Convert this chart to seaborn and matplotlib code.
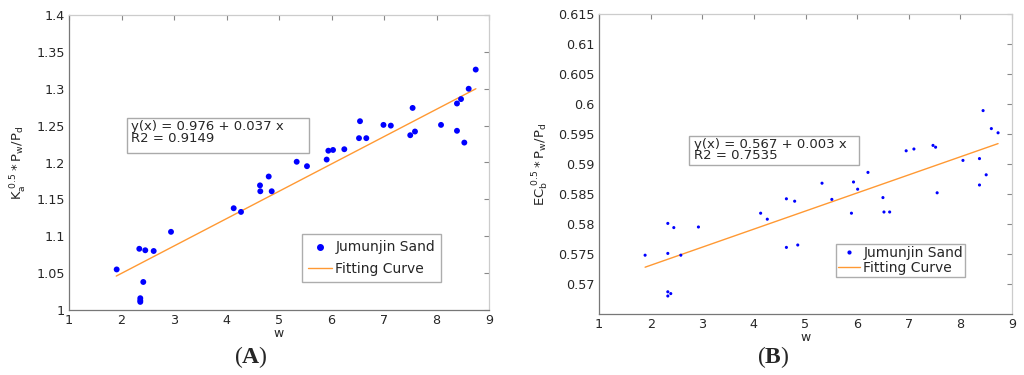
import matplotlib
matplotlib.use("Agg")
import matplotlib.pyplot as plt
import seaborn as sns
import pandas as pd
from matplotlib.lines import Line2D
from matplotlib.patches import Rectangle

# panel A data (K_a^0.5 * Pw/Pd vs w)
w_a = [1.908, 2.339, 2.453, 2.613, 2.415, 2.358, 2.358, 2.358, 2.943, 4.137,
       4.276, 4.638, 4.644, 4.804, 4.861, 5.337, 5.533, 5.908, 5.94, 6.029,
       6.244, 6.524, 6.543, 6.663, 6.99, 7.13, 7.50, 7.545, 7.59, 8.086,
       8.39, 8.39, 8.467, 8.53, 8.613, 8.747]
k_a = [1.055, 1.083, 1.081, 1.080, 1.038, 1.016, 1.013, 1.011, 1.106, 1.138,
       1.133, 1.169, 1.161, 1.181, 1.161, 1.201, 1.195, 1.204, 1.216, 1.217,
       1.218, 1.233, 1.256, 1.233, 1.251, 1.250, 1.237, 1.274, 1.242, 1.251,
       1.280, 1.243, 1.286, 1.227, 1.300, 1.326]
fit_a_x = [1.9, 8.75]
fit_a_y = [1.046, 1.300]

# panel B data (EC_b^0.5 * Pw/Pd vs w)
w_b = [1.893, 2.333, 2.449, 2.333, 2.585, 2.333, 2.333, 2.39, 2.926, 4.131,
       4.26, 4.63, 4.79, 4.63, 4.85, 5.32, 5.51, 5.89, 5.93, 6.01,
       6.21, 6.50, 6.52, 6.63, 6.95, 7.10, 7.47, 7.52, 7.55, 8.05,
       8.37, 8.37, 8.50, 8.44, 8.60, 8.73]
ec_b = [0.5748, 0.5801, 0.5794, 0.5751, 0.5748, 0.5687, 0.5680, 0.5684, 0.5795, 0.5818,
        0.5808, 0.5842, 0.5838, 0.5761, 0.5765, 0.5868, 0.5841, 0.5818, 0.5870, 0.5858,
        0.5886, 0.5844, 0.5820, 0.5820, 0.5922, 0.5925, 0.5931, 0.5928, 0.5852, 0.5906,
        0.5909, 0.5865, 0.5882, 0.5989, 0.5959, 0.5952]
fit_b_x = [1.893, 8.73]
fit_b_y = [0.5728, 0.5934]

x_ticks = [1, 2, 3, 4, 5, 6, 7, 8, 9]
y_ticks_a = [1, 1.05, 1.1, 1.15, 1.2, 1.25, 1.3, 1.35, 1.4]
y_labels_a = ["1", "1.05", "1.1", "1.15", "1.2", "1.25", "1.3", "1.35", "1.4"]
y_ticks_b = [0.57, 0.575, 0.58, 0.585, 0.59, 0.595, 0.6, 0.605, 0.61, 0.615]
y_labels_b = ["0.57", "0.575", "0.58", "0.585", "0.59", "0.595", "0.6", "0.605", "0.61", "0.615"]

sns.set_style("white")
plt.rcParams["font.family"] = ["DejaVu Sans"]
plt.rcParams["mathtext.fontset"] = "custom"
plt.rcParams["mathtext.rm"] = "DejaVu Sans"
plt.rcParams["mathtext.bf"] = "Liberation Serif:bold"

blue = "#0000ff"
orange = "#ff9933"

fig = plt.figure(figsize=(10.24, 3.75), dpi=100)
ax_a = fig.add_axes([69 / 1024, 65 / 375, 420 / 1024, 295 / 375])
ax_b = fig.add_axes([599 / 1024, 61 / 375, 413 / 1024, 300 / 375])


def style_axes(ax):
    for side in ["left", "bottom"]:
        ax.spines[side].set_color("#777777")
    for side in ["top", "right"]:
        ax.spines[side].set_color("#cccccc")
    for sp in ax.spines.values():
        sp.set_linewidth(0.9)
    ax.tick_params(direction="in", length=3.5, width=0.8, color="#888888",
                   top=True, right=True, labelsize=9.2, pad=3)


def eq_box(ax, x0, y0, x1, y1):
    ax.add_patch(Rectangle((x0, y0), x1 - x0, y1 - y0, fc="white", ec="#aaaaaa",
                           lw=1.0, zorder=4))


# panel A
df_a = pd.DataFrame({"w": w_a, "k": k_a})
sns.scatterplot(data=df_a, x="w", y="k", ax=ax_a, color=blue, s=18,
                edgecolor="none", zorder=3)
sns.lineplot(x=fit_a_x, y=fit_a_y, ax=ax_a, color=orange, linewidth=1.0, zorder=2)
ax_a.set_xlim(1, 9)
ax_a.set_ylim(1, 1.4)
ax_a.set_xticks(x_ticks)
ax_a.set_yticks(y_ticks_a)
ax_a.set_yticklabels(y_labels_a)
style_axes(ax_a)
ax_a.set_xlabel("w", fontsize=9, labelpad=0)
ax_a.set_ylabel(r"$\mathregular{K_a^{\ 0.5} * P_w/P_d}$", fontsize=9.5, labelpad=5)
eq_box(ax_a, 2.11, 1.213, 5.58, 1.261)
ax_a.text(2.175, 1.2403, "y(x) = 0.976 + 0.037 x\nR2 = 0.9149", fontsize=9.5,
          va="center", ha="left", linespacing=0.86, zorder=5)
h_a = [Line2D([], [], marker="o", ls="none", color=blue, markersize=4),
       Line2D([], [], color=orange, lw=1.0)]
ax_a.legend(h_a, ["Jumunjin Sand", "Fitting Curve"], loc="lower left",
            bbox_to_anchor=(0.555, 0.094), borderaxespad=0, fontsize=10,
            frameon=True, fancybox=False, edgecolor="#999999", borderpad=0.45,
            labelspacing=0.55, handlelength=1.7, handletextpad=0.25)
fig.text(251 / 1024, 1 - 357 / 375, r"($\mathbf{A}$)", ha="center", va="center",
         fontsize=17, family="Liberation Serif")

# panel B
df_b = pd.DataFrame({"w": w_b, "ec": ec_b})
sns.scatterplot(data=df_b, x="w", y="ec", ax=ax_b, color=blue, s=5,
                edgecolor="none", zorder=3)
sns.lineplot(x=fit_b_x, y=fit_b_y, ax=ax_b, color=orange, linewidth=1.0, zorder=2)
ax_b.set_xlim(1, 9)
ax_b.set_ylim(0.565, 0.615)
ax_b.set_xticks(x_ticks)
ax_b.set_yticks(y_ticks_b)
ax_b.set_yticklabels(y_labels_b)
style_axes(ax_b)
ax_b.set_xlabel("w", fontsize=9, labelpad=0)
ax_b.set_ylabel(r"$\mathregular{EC_b^{\ 0.5} * P_w/P_d}$", fontsize=9.5, labelpad=5)
eq_box(ax_b, 2.746, 0.5898, 6.03, 0.5946)
ax_b.text(2.837, 0.59235, "y(x) = 0.567 + 0.003 x\nR2 = 0.7535", fontsize=9.5,
          va="center", ha="left", linespacing=0.75, zorder=5)
h_b = [Line2D([], [], marker="o", ls="none", color=blue, markersize=2),
       Line2D([], [], color=orange, lw=1.0)]
ax_b.legend(h_b, ["Jumunjin Sand", "Fitting Curve"], loc="lower left",
            bbox_to_anchor=(0.573, 0.124), borderaxespad=0, fontsize=10,
            frameon=True, fancybox=False, edgecolor="#999999", borderpad=0.15,
            labelspacing=0.05, handlelength=1.6, handletextpad=0.25)
fig.text(773 / 1024, 1 - 357 / 375, r"($\mathbf{B}$)", ha="center", va="center",
         fontsize=17, family="Liberation Serif")

fig.savefig("out.png", dpi=100, facecolor="white")
